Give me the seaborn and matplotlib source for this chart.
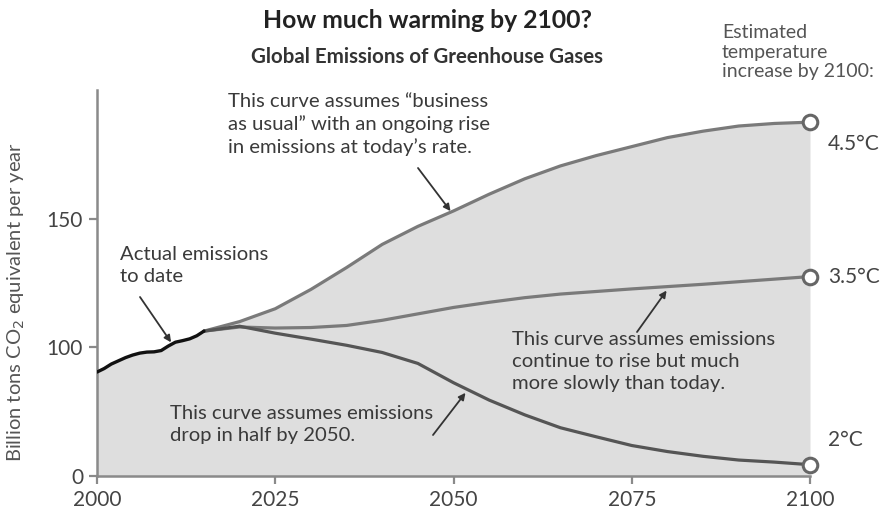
import numpy as np
import pandas as pd
import matplotlib
matplotlib.use("Agg")
import matplotlib.pyplot as plt
import seaborn as sns

# Emissions, billion tons CO2 equivalent per year
years_actual = [2000, 2001, 2002, 2003, 2004, 2005, 2006, 2007, 2008,
                2009, 2010, 2011, 2012, 2013, 2014, 2015]
actual = [80.8, 83.5, 87.0, 89.5, 92.0, 94.0, 95.5, 96.3, 96.5,
          97.5, 100.5, 102.0, 102.6, 103.3, 104.5, 106.3]

years_proj = [2015, 2020, 2025, 2030, 2035, 2040, 2045, 2050, 2055,
              2060, 2065, 2070, 2075, 2080, 2085, 2090, 2095, 2100]
business_as_usual = [106.3, 110.0, 115.0, 122.5, 131.0, 140.0, 147.0, 153.0, 159.5,
                     165.5, 170.5, 174.5, 178.0, 181.5, 184.0, 186.0, 187.0, 187.5]
slower_rise = [106.3, 107.9, 107.5, 107.7, 108.5, 110.5, 113.0, 115.5, 117.5,
               119.3, 120.7, 121.7, 122.7, 123.6, 124.5, 125.5, 126.5, 127.5]
half_by_2050 = [106.3, 108.2, 105.5, 103.2, 100.8, 96.0, 87.5, 72.5, 59.0,
                47.5, 37.5, 30.5, 23.7, 19.0, 15.3, 12.4, 10.8, 8.8]

end_labels = ["4.5°C", "3.5°C", "2°C"]
x_ticks = [2000, 2025, 2050, 2075, 2100]
y_ticks = [0, 100, 150]

W, H = 880, 511
sns.set_style("ticks")
plt.rcParams["font.family"] = ["Lato", "DejaVu Sans"]

fig = plt.figure(figsize=(W / 100, H / 100), dpi=100)
ax = fig.add_axes([97 / W, 35 / H, 713 / W, 386 / H])


def px(x, y):
    """Pixel position measured from the top-left corner -> figure fraction."""
    return x / W, 1 - y / H


# Upper envelope for the shaded area
env_x = years_actual + years_proj[1:]
env_y = actual + business_as_usual[1:]
ax.fill_between(env_x, 0, env_y, color="#dedede", lw=0, zorder=1)

proj = pd.DataFrame({
    "year": years_proj * 3,
    "value": business_as_usual + slower_rise + half_by_2050,
    "scenario": (["bau"] * len(years_proj) + ["slow"] * len(years_proj)
                 + ["half"] * len(years_proj)),
})
sns.lineplot(data=proj, x="year", y="value", hue="scenario",
             palette={"bau": "#7a7a7a", "slow": "#7a7a7a", "half": "#555555"},
             linewidth=2.3, legend=False, ax=ax, zorder=3)
sns.lineplot(x=years_actual, y=actual, color="#111111", linewidth=2.4,
             ax=ax, zorder=4)

ends = [business_as_usual[-1], slower_rise[-1], half_by_2050[-1]]
ax.scatter([years_proj[-1]] * 3, ends, s=110, facecolor="white",
           edgecolor="#666666", linewidth=2.2, zorder=6, clip_on=False)


# Axis with 0-100 compressed to half the height of 100-150
def fwd(v):
    v = np.asarray(v, dtype=float)
    return np.where(v < 100, 50 + v / 2, v)


def inv(d):
    d = np.asarray(d, dtype=float)
    return np.where(d < 100, (d - 50) * 2, d)


ax.set_yscale("function", functions=(fwd, inv))
ax.set_ylim(0, 200)
ax.set_xlim(2000, 2100)
ax.set_yticks(y_ticks)
ax.set_yticklabels([str(t) for t in y_ticks])
ax.set_xticks(x_ticks)
ax.set_xticklabels([str(t) for t in x_ticks])
ax.minorticks_off()
ax.set_xlabel("")
ax.set_ylabel("Billion tons CO$_2$ equivalent per year", fontsize=14.5,
              color="#555555")
ax.yaxis.set_label_coords(-0.098, 0.45)

for side in ("top", "right"):
    ax.spines[side].set_visible(False)
for side in ("left", "bottom"):
    ax.spines[side].set_color("#8a8a8a")
    ax.spines[side].set_linewidth(1.8)
ax.tick_params(axis="both", colors="#8a8a8a", width=1.6, length=6,
               labelsize=15, labelcolor="#444444", pad=4)
ax.set_facecolor("white")

# Titles
tx, ty = px(427, 21)
fig.text(tx, ty, "How much warming by 2100?", ha="center", va="center",
         fontsize=17.8, fontweight="bold", color="#222222")
tx, ty = px(427, 57)
fig.text(tx, ty, "Global Emissions of Greenhouse Gases", ha="center",
         va="center", fontsize=14.8, fontweight="bold", color="#333333")

tx, ty = px(722, 24)
fig.text(tx, ty, "Estimated\ntemperature\nincrease by 2100:", ha="left",
         va="top", fontsize=14, color="#555555", linespacing=1.18)

offsets = [-16, 0, 18]
for lab, val, dy in zip(end_labels, ends, offsets):
    ax.annotate(lab, xy=(2100, val), xytext=(13, dy),
                textcoords="offset points", ha="left", va="center",
                fontsize=15, color="#444444", annotation_clip=False)

note_kw = dict(fontsize=14.6, color="#3a3a3a", ha="left", va="top",
               linespacing=1.36)
tx, ty = px(120, 246)
fig.text(tx, ty, "Actual emissions\nto date", **note_kw)
tx, ty = px(228, 93)
fig.text(tx, ty, "This curve assumes \u201cbusiness\nas usual\u201d with an ongoing rise\n"
         "in emissions at today\u2019s rate.", **note_kw)
tx, ty = px(512, 331)
fig.text(tx, ty, "This curve assumes emissions\ncontinue to rise but much\n"
         "more slowly than today.", **note_kw)
tx, ty = px(170, 405)
fig.text(tx, ty, "This curve assumes emissions\ndrop in half by 2050.", **note_kw)

arrow_kw = dict(arrowstyle="-|>", color="#333333", lw=1.3,
                mutation_scale=10, shrinkA=0, shrinkB=1)
arrows = [
    ((2010.5, 101.5), (140, 297)),
    ((2049.7, 152.5), (418, 168)),
    ((2080.0, 122.5), (637, 332)),
    ((2051.8, 65.5), (433, 435)),
]
for tip, start in arrows:
    ax.annotate("", xy=tip, xycoords="data", xytext=px(*start),
                textcoords="figure fraction", arrowprops=arrow_kw, zorder=7)

fig.savefig("out.png", dpi=100, facecolor="white")
